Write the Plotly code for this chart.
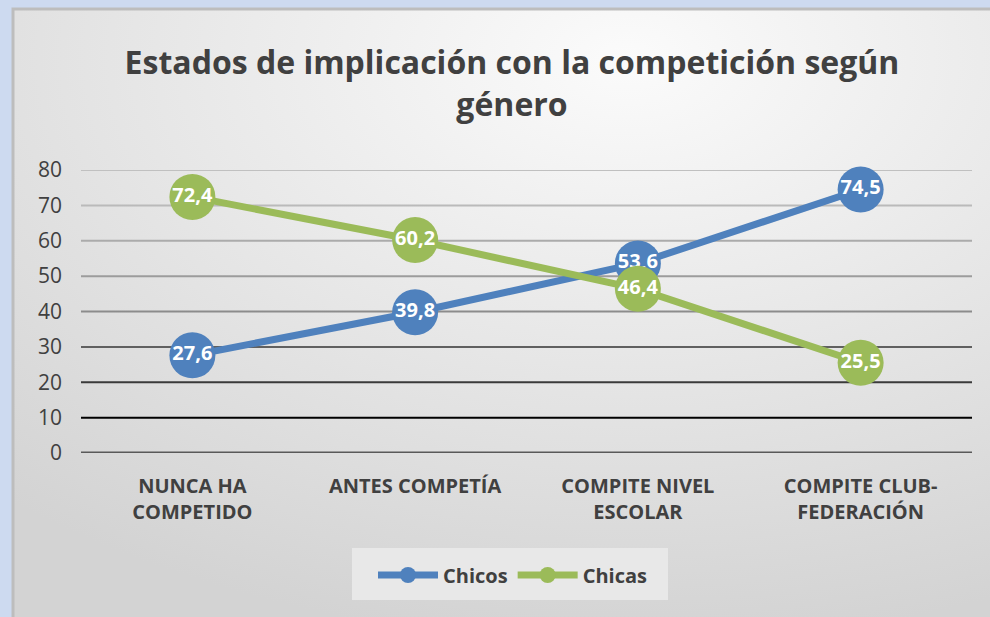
import base64
import plotly.graph_objects as go

categories = ["NUNCA HA<br>COMPETIDO", "ANTES COMPETÍA", "COMPITE NIVEL<br>ESCOLAR", "COMPITE CLUB-<br>FEDERACIÓN"]
chicos = [27.6, 39.8, 53.6, 74.5]
chicas = [72.4, 60.2, 46.4, 25.5]
y_ticks = [0, 10, 20, 30, 40, 50, 60, 70, 80]
grid_colors = ["#595959", "#000000", "#3a3a3a", "#606060", "#8c8c8c", "#9c9c9c", "#ababab", "#bababa", "#c0c0c0"]

W, H = 990, 617
L, R, T, B = 81, 18, 170, 164
PW, PH = W - L - R, H - T - B

FONT = "Open Sans"
TXT = "#404040"

svg = f"""<svg xmlns="http://www.w3.org/2000/svg" width="{W}" height="{H}">
<defs><radialGradient id="g" cx="0.62" cy="0.08" r="0.95">
<stop offset="0" stop-color="#fbfbfb"/><stop offset="1" stop-color="#d3d3d3"/></radialGradient></defs>
<rect width="{W}" height="{H}" fill="#cddaf0"/>
<rect x="13" y="9" width="{W}" height="{H}" fill="url(#g)" stroke="#bdbdbd" stroke-width="3"/>
</svg>"""
bg_src = "data:image/svg+xml;base64," + base64.b64encode(svg.encode()).decode()


def fmt(v):
    return f"{v:.1f}".replace(".", ",")


def px_x(x):
    return (x - L) / PW


def px_y(y):
    return 1 - (y - T) / PH


fig = go.Figure()
for name, vals, color in [("Chicos", chicos, "#4f81bd"), ("Chicas", chicas, "#9bbb59")]:
    fig.add_trace(go.Scatter(
        x=categories, y=vals, name=name, mode="lines+markers+text",
        line=dict(color=color, width=7),
        marker=dict(size=46, color=color),
        text=[fmt(v) for v in vals], textposition="middle center",
        textfont=dict(family=FONT, size=20, color="white", weight="bold"),
        cliponaxis=False,
    ))

for yv, c in zip(y_ticks, grid_colors):
    fig.add_hline(y=yv, line=dict(color=c, width=3 if yv == 0 else 2), layer="below")

fig.add_layout_image(dict(
    source=bg_src, xref="paper", yref="paper",
    x=-L / PW, y=1 + T / PH, sizex=W / PW, sizey=H / PH,
    xanchor="left", yanchor="top", sizing="stretch", layer="below",
))

# legend box
fig.add_shape(type="rect", xref="paper", yref="paper",
              x0=px_x(352), x1=px_x(668), y0=px_y(600), y1=px_y(548),
              fillcolor="#e8e8e8", line=dict(width=0), layer="below")

fig.update_layout(
    width=W, height=H,
    margin=dict(l=L, r=R, t=T, b=B),
    paper_bgcolor="#cddaf0", plot_bgcolor="rgba(0,0,0,0)",
    title=dict(
        text="Estados de implicación con la competición según<br>género",
        x=512 / W, xref="container", xanchor="center",
        y=1 - 74 / H, yref="container", yanchor="middle",
        font=dict(family=FONT, size=32, color=TXT, weight="bold"),
    ),
    showlegend=True,
    legend=dict(
        orientation="h", xref="container", yref="container",
        x=513 / W, y=1 - 575 / H, xanchor="center", yanchor="middle",
        bgcolor="rgba(0,0,0,0)", itemwidth=60,
        font=dict(family=FONT, size=20, color=TXT, weight="bold"),
    ),
    xaxis=dict(
        range=[-0.5, 3.5], showgrid=False, zeroline=False, showline=False,
        tickfont=dict(family=FONT, size=20, color=TXT, weight="bold"),
        ticks="", fixedrange=True, ticklabelstandoff=19,
    ),
    yaxis=dict(
        range=[0, 80], tickvals=y_ticks, showgrid=False, zeroline=False,
        tickfont=dict(family=FONT, size=21, color=TXT),
        ticks="", ticklabelstandoff=18, fixedrange=True,
    ),
)

fig.write_html("out.html", config={"displayModeBar": False},
               post_script="document.body.style.margin='0';")
